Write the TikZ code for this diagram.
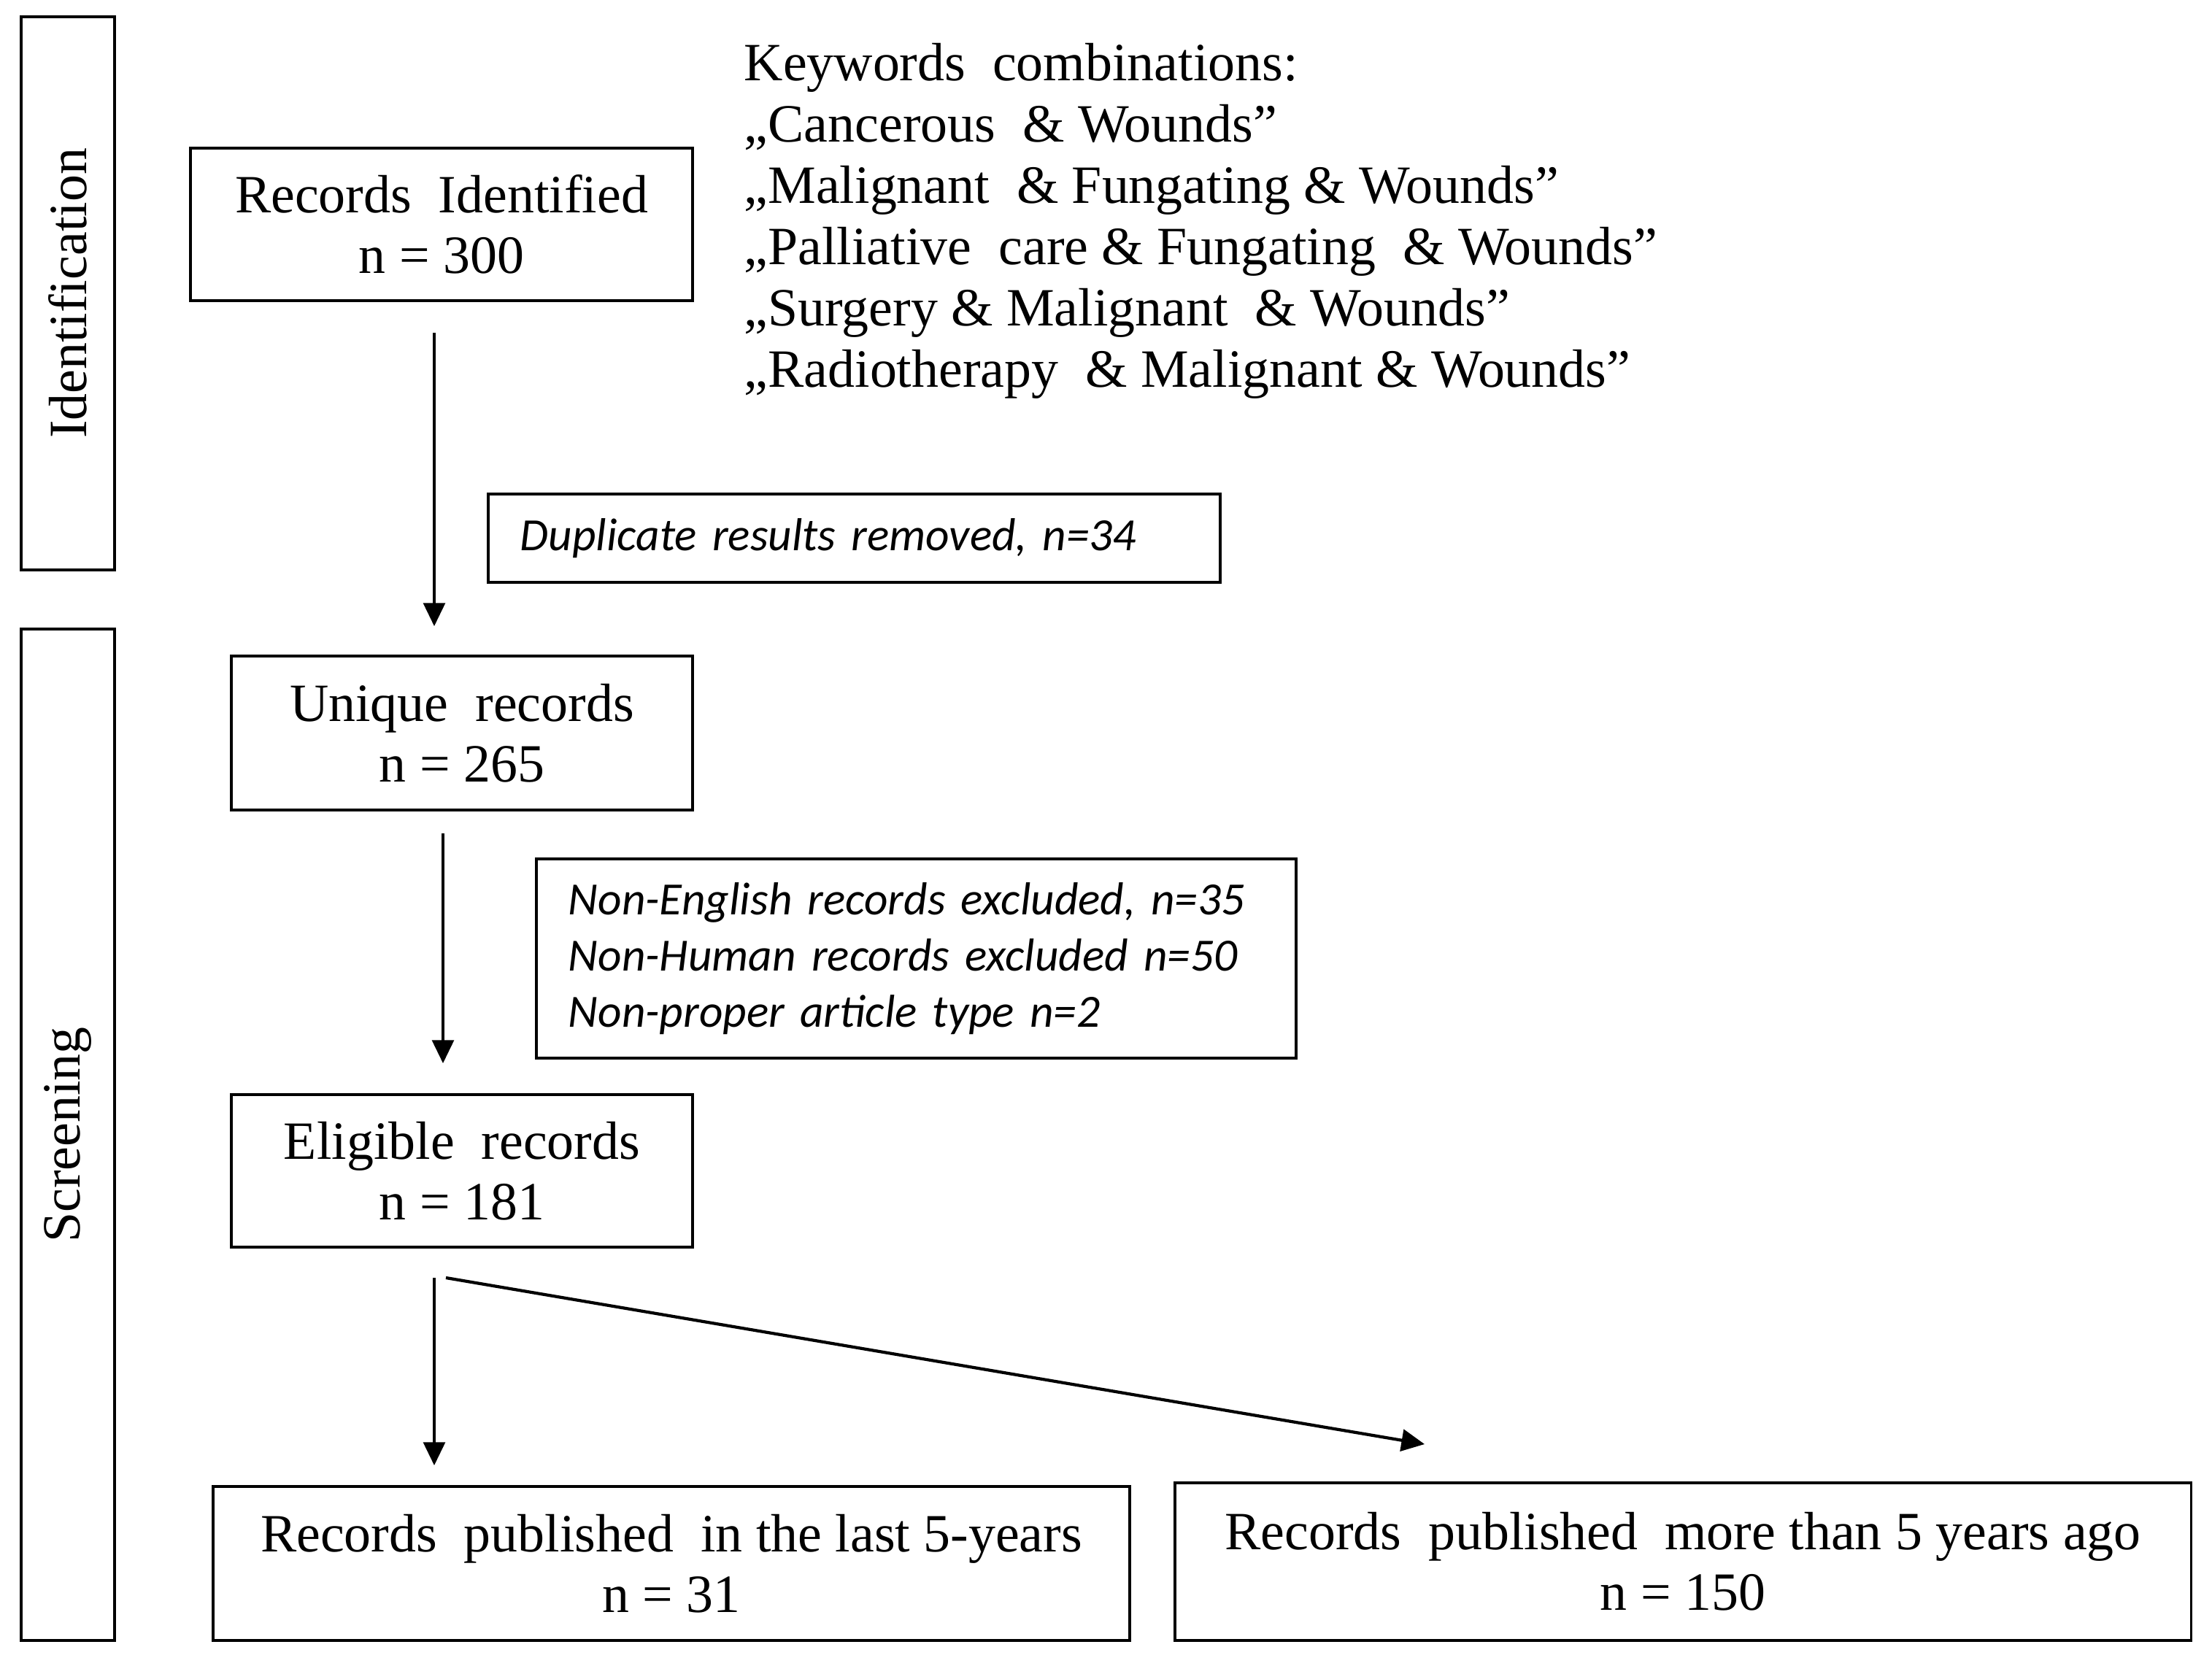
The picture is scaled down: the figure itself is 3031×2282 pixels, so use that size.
\documentclass[tikz,border=0pt]{standalone}
\usepackage{fontspec}
\setmainfont{Liberation Serif}
\newfontfamily\calib{Carlito}
\usetikzlibrary{arrows.meta,calc}
\tikzset{
  box/.style={draw, line width=1.1pt, inner sep=0pt, align=center,
    font=\fontsize{21pt}{23.6pt}\selectfont},
  side/.style={draw, line width=1.1pt, inner sep=0pt, rotate=90,
    font=\fontsize{21pt}{24pt}\selectfont},
  note/.style={draw, line width=1.1pt, inner ysep=0pt, inner xsep=0.44cm, align=left,
    font=\calib\itshape\fontsize{18pt}{21.8pt}\selectfont},
  arr/.style={line width=0.9pt, -{Triangle[length=9pt,width=8.5pt]}},
  kw/.style={inner sep=0pt, align=left, anchor=west,
    font=\fontsize{21pt}{23.9pt}\selectfont}
}
\begin{document}
\begin{tikzpicture}[x=0.01cm, y=-0.01cm]
\useasboundingbox[fill=white] (0,0) rectangle (3031,2282);

% stage boxes
\node[side, minimum width=7.58cm, minimum height=1.28cm] (ident) at (93,402) {Identification};
\node[side, minimum width=13.86cm, minimum height=1.28cm] (screen) at (93,1555) {Screening};

% main flow
\node[box, minimum width=6.88cm, minimum height=2.09cm] (recid) at (605,307.5) {Records\ \ Identified\\n = 300};
\node[box, minimum width=6.32cm, minimum height=2.11cm] (unique) at (633,1004.5) {Unique\ \ records\\n = 265};
\node[box, minimum width=6.32cm, minimum height=2.09cm] (elig) at (633,1604.5) {Eligible\ \ records\\n = 181};
\node[box, minimum width=12.56cm, minimum height=2.11cm] (last5) at (920,2142.5) {Records\ \ published\ \ in the last 5-years\\n = 31};
\node[box, minimum width=13.92cm, minimum height=2.16cm] (more5) at (2306,2140) {Records\ \ published\ \ more than 5 years ago\\n = 150};

% side notes
\node[note, text width=9.15cm, minimum height=1.21cm] (dup) at (1170.5,737.5) {Duplicate results removed, n=34};
\node[note, text width=9.53cm, minimum height=2.73cm] (excl) at (1255.5,1313.5) {Non-English records excluded, n=35\\Non-Human records excluded n=50\\Non-proper article type n=2};

% keywords
\node[kw] (kw) at (1019,303) {Keywords\ \ combinations:\\
„Cancerous\ \ \& Wounds”\\
„Malignant\ \ \& Fungating \& Wounds”\\
„Palliative\ \ care \& Fungating\ \ \& Wounds”\\
„Surgery \& Malignant\ \ \& Wounds”\\
„Radiotherapy\ \ \& Malignant \& Wounds”};

% arrows
\coordinate (a1s) at ($(recid.south)+(-10,42)$);
\coordinate (a1e) at ($(unique.north)+(0,-39)$);
\draw[arr] (a1s) -- (a1s |- a1e);

\coordinate (a2s) at ($(unique.south)+(-26,30)$);
\coordinate (a2e) at ($(elig.north)+(0,-41)$);
\draw[arr] (a2s) -- (a2s |- a2e);

\coordinate (a3s) at ($(elig.south)+(-38,40)$);
\coordinate (a3e) at ($(last5.north)+(0,-27)$);
\draw[arr] (a3s) -- (a3s |- a3e);

\coordinate (a4s) at ($(elig.south)+(-22,40)$);
\coordinate (a4e) at ($(more5.north)+(-354,-51)$);
\draw[arr, line width=1.2pt] (a4s) -- (a4e);
\end{tikzpicture}
\end{document}
